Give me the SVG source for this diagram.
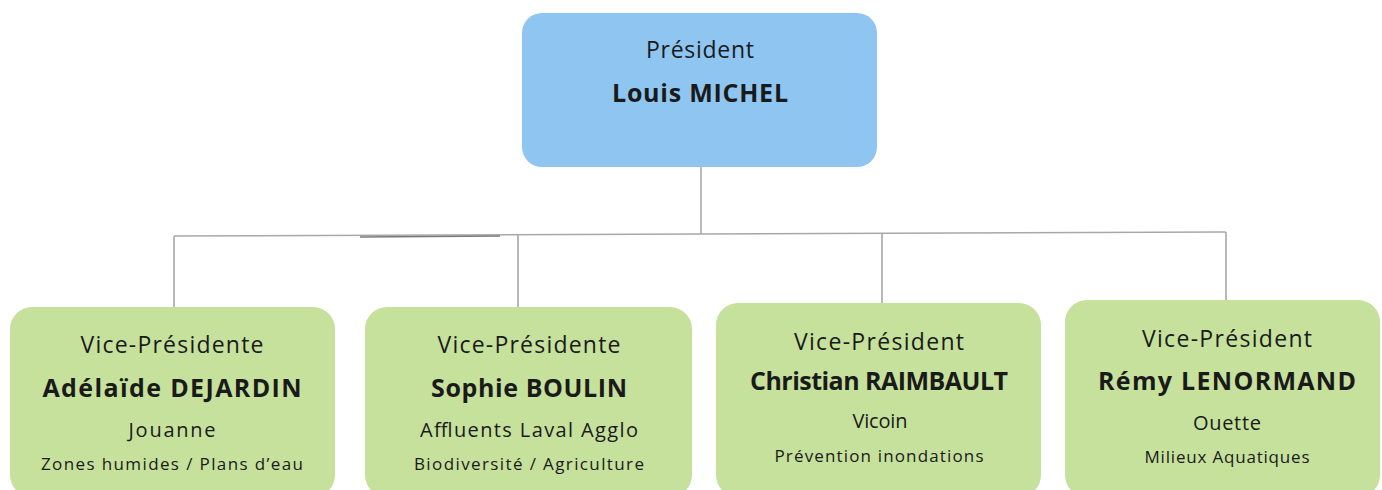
<svg xmlns="http://www.w3.org/2000/svg" width="1382" height="490" viewBox="0 0 1382 490">
<style>
.bg{fill:#ffffff}
.top{fill:#8fc6f1}
.vp{fill:#c6e19c}
.ln{stroke:#a8a8a8;stroke-width:1.6;fill:none}
text{font-family:"Open Sans","Liberation Sans",sans-serif;fill:#1a1a1a;text-anchor:middle}
.t1{font-size:23px}
.nm{font-size:25px;font-weight:bold}
.loc{font-size:20px}
.th{font-size:17px}
</style>
<rect class="bg" x="0" y="0" width="1382" height="490"/>
<g id="connectors">
<line class="ln" x1="701" y1="167" x2="701" y2="234"/>
<line class="ln" x1="174" y1="236" x2="1226" y2="232"/>
<line class="ln" x1="174" y1="236" x2="174" y2="308"/>
<line class="ln" x1="518" y1="235" x2="518" y2="307"/>
<line class="ln" x1="882" y1="233" x2="882" y2="303"/>
<line class="ln" x1="1226" y1="232" x2="1226" y2="300"/>
<line x1="360" y1="237" x2="500" y2="236" stroke="#7a7a7a" stroke-width="1.6"/>
</g>
<g id="president">
<rect class="top" x="522" y="13" width="355" height="154" rx="20"/>
<text class="t1" x="700" y="58" textLength="108">Président</text>
<text class="nm" x="700" y="102" textLength="176">Louis MICHEL</text>
</g>
<g id="vp1">
<rect class="vp" x="10" y="307" width="325" height="190" rx="22"/>
<text class="t1" x="172" y="353" textLength="183">Vice-Présidente</text>
<text class="nm" x="172" y="397" textLength="259">Adélaïde DEJARDIN</text>
<text class="loc" x="172" y="437" textLength="87">Jouanne</text>
<text class="th" x="172" y="470" textLength="262">Zones humides / Plans d’eau</text>
</g>
<g id="vp2">
<rect class="vp" x="365" y="307" width="327" height="190" rx="22"/>
<text class="t1" x="529" y="353" textLength="183">Vice-Présidente</text>
<text class="nm" x="529" y="397" textLength="196">Sophie BOULIN</text>
<text class="loc" x="529" y="437" textLength="218">Affluents Laval Agglo</text>
<text class="th" x="529" y="470" textLength="230">Biodiversité / Agriculture</text>
</g>
<g id="vp3">
<rect class="vp" x="716" y="303" width="325" height="194" rx="22"/>
<text class="t1" x="879" y="350" textLength="170">Vice-Président</text>
<text class="nm" x="879" y="390" textLength="258">Christian RAIMBAULT</text>
<text class="loc" x="880" y="428" textLength="55">Vicoin</text>
<text class="th" x="879" y="462" textLength="209">Prévention inondations</text>
</g>
<g id="vp4">
<rect class="vp" x="1065" y="300" width="315" height="197" rx="22"/>
<text class="t1" x="1227" y="347" textLength="170">Vice-Président</text>
<text class="nm" x="1227" y="390" textLength="258">Rémy LENORMAND</text>
<text class="loc" x="1227" y="430" textLength="68">Ouette</text>
<text class="th" x="1227" y="463" textLength="165">Milieux Aquatiques</text>
</g>
</svg>
